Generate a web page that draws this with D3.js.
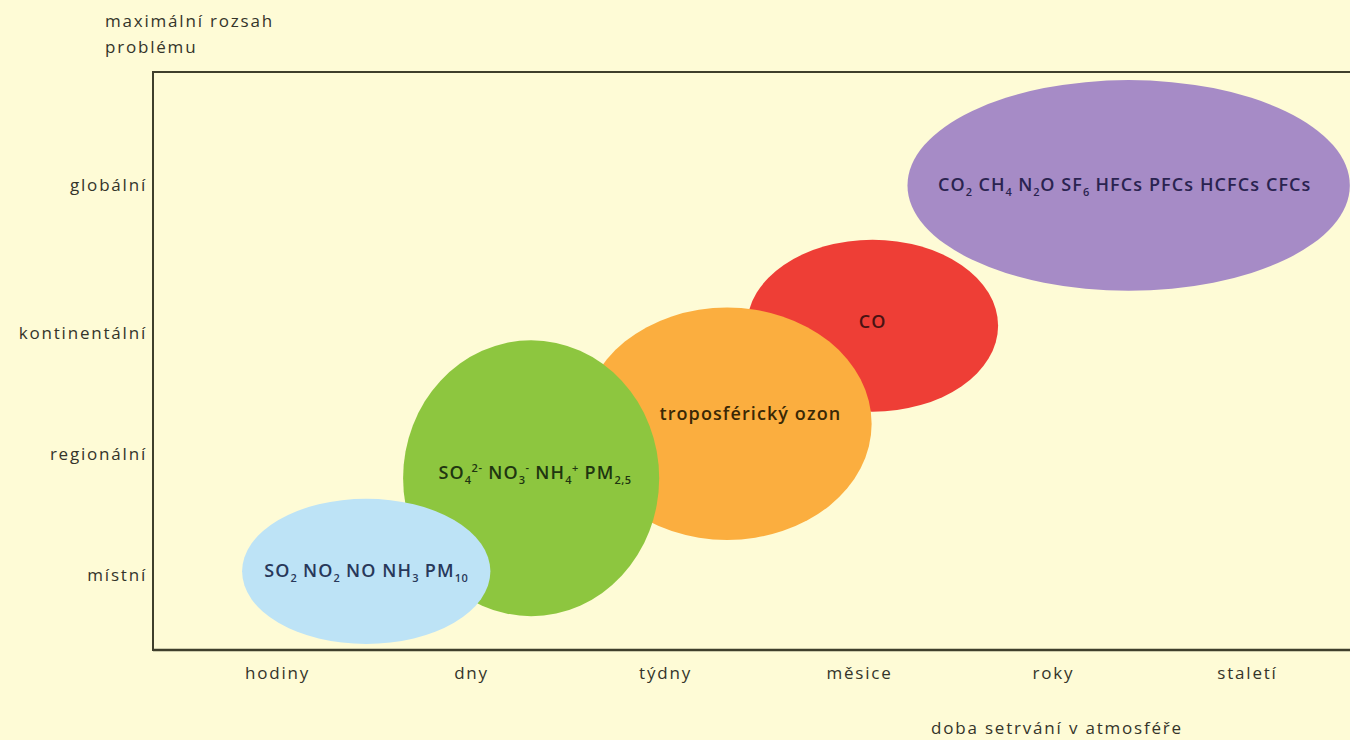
<!DOCTYPE html>
<html>
<head>
<meta charset="utf-8">
<script src="https://cdn.jsdelivr.net/npm/d3@7"></script>
<style>
  html, body { margin: 0; padding: 0; background: #fefbd6; }
  svg { display: block; }
  text { font-family: "Open Sans", "DejaVu Sans", sans-serif; }
</style>
</head>
<body>
<svg id="chart" width="1350" height="740"></svg>
<script>
// doba setrvání (x) a rozsah problému (y)
var timeLabels = ["hodiny", "dny", "týdny", "měsice", "roky", "staletí"];
var scaleLabels = ["místní", "regionální", "kontinentální", "globální"];
var scaleValues = [1, 2, 3, 4.22];

// skupiny látek: střed a poloosy v jednotkách os
var groupNames = ["CO2 ... CFCs", "CO", "troposférický ozon", "SO4 NO3 NH4 PM2,5", "SO2 NO2 NO NH3 PM10"];
var groupCx = [4.39, 3.07, 2.32, 1.31, 0.46];
var groupCy = [4.22, 3.06, 2.25, 1.80, 1.03];
var groupRx = [1.14, 0.647, 0.745, 0.66, 0.64];
var groupRy = [0.87, 0.71, 0.96, 1.14, 0.60];
var groupColors = ["#a68bc6", "#ee3e36", "#fbae3f", "#8dc63f", "#bde3f6"];
var textColors = ["#2a2350", "#4a1212", "#3a2805", "#203510", "#28385a"];
// popisky: [text, "", "sub" nebo "sup"]
var groupLabels = [
  [["CO",""],["2","sub"],[" CH",""],["4","sub"],[" N",""],["2","sub"],["O SF",""],["6","sub"],[" HFCs PFCs HCFCs CFCs",""]],
  [["CO",""]],
  [["troposférický ozon",""]],
  [["SO",""],["4","sub"],["2-","sup"],[" NO",""],["3","sub"],["-","sup"],[" NH",""],["4","sub"],["+","sup"],[" PM",""],["2,5","sub"]],
  [["SO",""],["2","sub"],[" NO",""],["2","sub"],[" NO NH",""],["3","sub"],[" PM",""],["10","sub"]]
];
var labelDx = [-0.02, 0.0, 0.12, 0.02, 0.0];
var labelDy = [0.0, 0.03, 0.08, 0.04, 0.0];

var svg = d3.select("#chart");
var mLeft = 153, mTop = 72, mRight = 1350, mBottom = 650;

var x = d3.scaleLinear().domain([0, 5]).range([277, 1247]);
var y = d3.scaleLinear().domain([1, 2]).range([575, 454]);

var g = svg.append("g");

// elipsy
var data = groupNames.map(function(n, i) {
  return {name: n, cx: groupCx[i], cy: groupCy[i], rx: groupRx[i], ry: groupRy[i],
    color: groupColors[i], tc: textColors[i], label: groupLabels[i], dx: labelDx[i], dy: labelDy[i]};
});

g.selectAll("ellipse.group")
  .data(data)
  .enter().append("ellipse")
  .attr("class", "group")
  .attr("cx", function(d) { return x(d.cx); })
  .attr("cy", function(d) { return y(d.cy); })
  .attr("rx", function(d) { return x(d.rx) - x(0); })
  .attr("ry", function(d) { return y(0) - y(d.ry); })
  .style("fill", function(d) { return d.color; });

var labels = g.selectAll("text.glabel")
  .data(data)
  .enter().append("text")
  .attr("class", "glabel")
  .attr("x", function(d) { return x(d.cx + d.dx); })
  .attr("y", function(d) { return y(d.cy + d.dy) + 6; })
  .attr("text-anchor", "middle")
  .style("font-size", "18px")
  .style("font-weight", 600)
  .style("letter-spacing", "1.1px")
  .style("fill", function(d) { return d.tc; });

labels.each(function(d) {
  var t = d3.select(this);
  var shift = 0;
  d.label.forEach(function(p) {
    var want = p[1] == "sub" ? 5 : (p[1] == "sup" ? -7 : 0);
    var ts = t.append("tspan").text(p[0]);
    ts.attr("dy", want - shift);
    if (p[1]) ts.style("font-size", "11px").style("letter-spacing", "0.5px");
    shift = want;
  });
});

// rámeček
var frameColor = "#3f3f2c";
g.append("line").attr("x1", mLeft).attr("x2", mRight).attr("y1", mTop).attr("y2", mTop)
  .style("stroke", frameColor).style("stroke-width", 2);
g.append("line").attr("x1", mLeft).attr("x2", mRight).attr("y1", mBottom).attr("y2", mBottom)
  .style("stroke", frameColor).style("stroke-width", 2.5);
g.append("line").attr("x1", mLeft).attr("x2", mLeft).attr("y1", mTop - 1).attr("y2", mBottom + 1)
  .style("stroke", frameColor).style("stroke-width", 2);

// osy
var xAxis = d3.axisBottom(x).tickValues(d3.range(timeLabels.length))
  .tickFormat(function(d) { return timeLabels[d]; }).tickSize(0).tickPadding(17);
var yAxis = d3.axisLeft(y).tickValues(scaleValues)
  .tickFormat(function(d, i) { return scaleLabels[i]; }).tickSize(0).tickPadding(6);

var gx = svg.append("g").attr("transform", "translate(0," + mBottom + ")").call(xAxis);
var gy = svg.append("g").attr("transform", "translate(" + mLeft + ",0)").call(yAxis);
[gx, gy].forEach(function(a) {
  a.select(".domain").remove();
  a.selectAll("text").style("font-family", "Open Sans, sans-serif")
    .style("font-size", "17px").style("letter-spacing", "1.8px").style("fill", "#34342a");
});

// názvy os
function title(tx, ty, s, anchor) {
  svg.append("text").attr("x", tx).attr("y", ty).attr("text-anchor", anchor)
    .style("font-size", "17px").style("letter-spacing", "1.8px")
    .style("fill", "#34342a").text(s);
}
title(105, 27, "maximální rozsah", "start");
title(105, 53, "problému", "start");
title(1057, 734, "doba setrvání v atmosféře", "middle");
</script>
</body>
</html>
